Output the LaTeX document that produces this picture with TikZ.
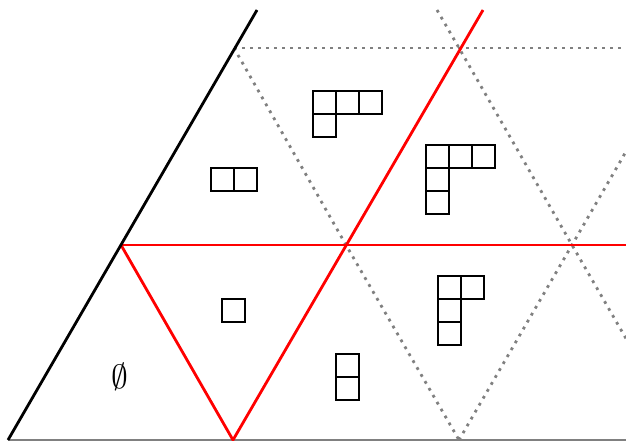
\documentclass[tikz,border=0pt]{standalone}
\begin{document}
\begin{tikzpicture}[x=1pt,y=-1pt,
  redl/.style={draw=red, line width=2.8pt},
  blackl/.style={draw=black, line width=2.8pt},
  dotl/.style={draw=gray, line width=2.8pt, dash pattern=on 2.8pt off 5.2pt},
  basel/.style={draw=gray, line width=1.5pt},
  ycell/.style={draw=black, line width=2.5pt}]
\useasboundingbox (0,0) rectangle (626,441);
% lattice points
\coordinate (A0) at (8,440);
\coordinate (A1) at (233,440);
\coordinate (A2) at (459,440);
\coordinate (B0) at (121,245);
\coordinate (B1) at (346,245);
\coordinate (B2) at (572,245);
\coordinate (C0) at (234,48);
\coordinate (C1) at (459,48);
\coordinate (blackTop) at (257,10);
\coordinate (redTop) at (483,10);
\coordinate (dotTop) at (437,10);
\coordinate (Rbase) at (626,440);
\coordinate (Rmid) at (626,245);
\coordinate (Rtop) at (628,48);
\coordinate (Rup) at (626,151.5);
\coordinate (Rdown) at (626,338.5);
% base line
\draw[basel] (A0) -- (Rbase);
% dotted lines
\draw[dotl] (C0) -- (Rtop);
\draw[dotl] (C0) -- (B1) -- (A2);
\draw[dotl] (dotTop) -- (C1) -- (B2) -- (Rdown);
\draw[dotl] (A2) -- (B2) -- (Rup);
% red lines
\draw[redl] (B0) -- (Rmid);
\draw[redl] (B0) -- (A1) -- (redTop);
% black line
\draw[blackl] (A0) -- (blackTop);
% Young diagrams
\foreach \x/\y in {313/91,336/91,359/91,313/114} \draw[ycell] (\x,\y) rectangle ++(23,23);
\foreach \x/\y in {211/168,234/168} \draw[ycell] (\x,\y) rectangle ++(23,23);
\foreach \x/\y in {426/145,449/145,472/145,426/168,426/191} \draw[ycell] (\x,\y) rectangle ++(23,23);
\foreach \x/\y in {438/276,461/276,438/299,438/322} \draw[ycell] (\x,\y) rectangle ++(23,23);
\draw[ycell] (222,299) rectangle ++(23,23);
\foreach \x/\y in {336/354,336/377} \draw[ycell] (\x,\y) rectangle ++(23,23);
\node[scale=1.35] (empty) at (120,377) {\Huge$\emptyset$};
\end{tikzpicture}
\end{document}
